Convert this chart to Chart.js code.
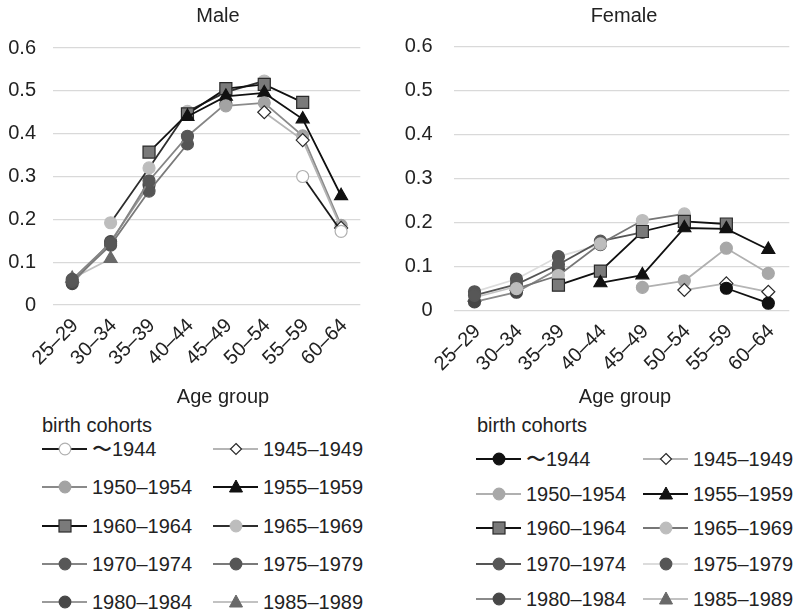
<!DOCTYPE html>
<html>
<head>
<meta charset="utf-8">
<script src="https://cdn.jsdelivr.net/npm/chart.js@4/dist/chart.umd.min.js"></script>
<style>
html, body { margin: 0; padding: 0; background: #fff; overflow: hidden; }
body { width: 794px; height: 613px; position: relative; font-family: "Liberation Sans", Arial, sans-serif; color: #222; }
.panel { position: absolute; top: 0; height: 406px; }
#male-panel { left: 0; width: 370px; }
#female-panel { left: 400px; width: 399px; }
.label { position: absolute; width: 200px; text-align: center; font-size: 20px; line-height: 22px; white-space: nowrap; }
.legend-title { position: absolute; font-size: 20px; line-height: 22px; white-space: nowrap; }
.legend-item { position: absolute; width: 220px; height: 24px; display: flex; align-items: center; font-size: 20px; white-space: nowrap; }
.legend-item svg { margin-right: 5px; flex: none; }
.legend-item span { flex: none; }
</style>
</head>
<body>
<div class="panel" id="male-panel"><canvas id="maleChart"></canvas></div>
<div class="panel" id="female-panel"><canvas id="femaleChart"></canvas></div>

<div class="label" style="left:118px;top:4px;">Male</div>
<div class="label" style="left:524px;top:4px;">Female</div>
<div class="label" style="left:123px;top:385px;">Age group</div>
<div class="label" style="left:525px;top:385px;">Age group</div>
<div id="legends"></div>

<script>
// ==========================================================================
// DATA
// ==========================================================================
const ageGroups = ['25–29', '30–34', '35–39', '40–44', '45–49', '50–54', '55–59', '60–64'];
const cohorts = ['〜1944', '1945–1949', '1950–1954', '1955–1959', '1960–1964',
                 '1965–1969', '1970–1974', '1975–1979', '1980–1984', '1985–1989'];
const yTicks = [0, 0.1, 0.2, 0.3, 0.4, 0.5, 0.6];

// one row per birth cohort, one value per age group (null = not observed)
const maleRates = [
    [null, null, null, null, null, null, 0.300, 0.172],
    [null, null, null, null, null, 0.450, 0.385, 0.180],
    [null, null, null, null, 0.465, 0.472, 0.395, 0.186],
    [null, null, null, 0.440, 0.487, 0.495, 0.434, 0.255],
    [null, null, 0.357, 0.446, 0.505, 0.515, 0.473, null],
    [null, 0.192, 0.320, 0.452, 0.497, 0.523, null, null],
    [0.060, 0.145, 0.290, 0.394, 0.470, null, null, null],
    [0.055, 0.140, 0.266, 0.376, null, null, null, null],
    [0.050, 0.148, 0.280, null, null, null, null, null],
    [0.062, 0.108, null, null, null, null, null, null]
];

const femaleRates = [
    [null, null, null, null, null, null, 0.051, 0.017],
    [null, null, null, null, null, 0.047, 0.062, 0.043],
    [null, null, null, null, 0.053, 0.068, 0.142, 0.085],
    [null, null, null, 0.063, 0.081, 0.188, 0.186, 0.139],
    [null, null, 0.058, 0.090, 0.180, 0.203, 0.197, null],
    [null, 0.050, 0.080, 0.152, 0.205, 0.220, null, null],
    [0.035, 0.060, 0.105, 0.158, 0.178, null, null, null],
    [0.043, 0.072, 0.123, 0.150, null, null, null, null],
    [0.020, 0.042, 0.095, null, null, null, null, null],
    [0.030, 0.055, null, null, null, null, null, null]
];

// ==========================================================================
// STYLES (line colour, marker fill, marker border, marker shape)
// ==========================================================================
const maleStyles = [
    { line: '#1a1a1a', fill: '#ffffff', stroke: '#b0b0b0', shape: 'circle' },
    { line: '#b5b5b5', fill: '#ffffff', stroke: '#2a2a2a', shape: 'rectRot' },
    { line: '#8a8a8a', fill: '#a3a3a3', stroke: '#a3a3a3', shape: 'circle' },
    { line: '#111111', fill: '#111111', stroke: '#111111', shape: 'triangle' },
    { line: '#111111', fill: '#7a7a7a', stroke: '#2a2a2a', shape: 'rect' },
    { line: '#2e2e2e', fill: '#bdbdbd', stroke: '#bdbdbd', shape: 'circle' },
    { line: '#858585', fill: '#575757', stroke: '#575757', shape: 'circle' },
    { line: '#7a7a7a', fill: '#555555', stroke: '#555555', shape: 'circle' },
    { line: '#9a9a9a', fill: '#474747', stroke: '#474747', shape: 'circle' },
    { line: '#c2c2c2', fill: '#696969', stroke: '#696969', shape: 'triangle' }
];

const femaleStyles = [
    { line: '#111111', fill: '#111111', stroke: '#111111', shape: 'circle' },
    { line: '#b5b5b5', fill: '#ffffff', stroke: '#2a2a2a', shape: 'rectRot' },
    { line: '#b0b0b0', fill: '#a8a8a8', stroke: '#a8a8a8', shape: 'circle' },
    { line: '#111111', fill: '#111111', stroke: '#111111', shape: 'triangle' },
    { line: '#111111', fill: '#7a7a7a', stroke: '#2a2a2a', shape: 'rect' },
    { line: '#767676', fill: '#bdbdbd', stroke: '#bdbdbd', shape: 'circle' },
    { line: '#555555', fill: '#575757', stroke: '#575757', shape: 'circle' },
    { line: '#dcdcdc', fill: '#555555', stroke: '#555555', shape: 'circle' },
    { line: '#8a8a8a', fill: '#474747', stroke: '#474747', shape: 'circle' },
    { line: '#c2c2c2', fill: '#696969', stroke: '#696969', shape: 'triangle' }
];

const markerRadius = { circle: 6, rectRot: 6.5, triangle: 7.5, rect: 8.5 };

Chart.defaults.font.family = '"Liberation Sans", Arial, sans-serif';
Chart.defaults.color = '#222';

// ==========================================================================
// CHART BUILDER
// ==========================================================================
function buildChart(canvasId, rates, styles, geo) {
    const datasets = rates.map((row, i) => ({
        label: cohorts[i],
        data: row,
        borderColor: styles[i].line,
        borderWidth: 1.8,
        pointStyle: styles[i].shape,
        pointRadius: markerRadius[styles[i].shape],
        pointBackgroundColor: styles[i].fill,
        pointBorderColor: styles[i].stroke,
        pointBorderWidth: 1.2,
        spanGaps: false,
        tension: 0
    }));

    return new Chart(document.getElementById(canvasId), {
        type: 'line',
        data: { labels: ageGroups, datasets: datasets },
        options: {
            responsive: true,
            maintainAspectRatio: false,
            animation: false,
            layout: { padding: { top: geo.top, right: geo.right, left: 0, bottom: 0 } },
            plugins: { legend: { display: false }, title: { display: false }, tooltip: { enabled: false } },
            scales: {
                x: {
                    offset: true,
                    grid: { display: false },
                    border: { display: false },
                    ticks: { minRotation: 45, maxRotation: 45, padding: geo.xPad, labelOffset: 3, font: { size: 20 }, autoSkip: false },
                    afterFit: s => { s.height = geo.xHeight; }
                },
                y: {
                    min: yTicks[0],
                    max: yTicks[yTicks.length - 1],
                    afterBuildTicks: s => { s.ticks = yTicks.map(v => ({ value: v })); },
                    grid: { color: '#d9d9d9', lineWidth: 1.3, drawTicks: false },
                    border: { display: false },
                    ticks: { padding: geo.yPad, font: { size: 20 } },
                    afterFit: s => { s.width = geo.yWidth; }
                }
            }
        }
    });
}

buildChart('maleChart', maleRates, maleStyles, { top: 48, right: 5, xHeight: 101, xPad: 1, yWidth: 53, yPad: 17 });
buildChart('femaleChart', femaleRates, femaleStyles, { top: 46.7, right: 0, xHeight: 95.3, xPad: 1, yWidth: 53.5, yPad: 21 });

// ==========================================================================
// LEGENDS
// ==========================================================================
function markerSvg(style) {
    const w = 45, h = 18, cx = 23, cy = 9;
    let mark = '';
    if (style.shape === 'circle') {
        mark = `<circle cx="${cx}" cy="${cy}" r="5.8" fill="${style.fill}" stroke="${style.stroke}" stroke-width="1.2"/>`;
    } else if (style.shape === 'rect') {
        mark = `<rect x="${cx - 6}" y="${cy - 6}" width="12" height="12" fill="${style.fill}" stroke="${style.stroke}" stroke-width="1.2"/>`;
    } else if (style.shape === 'triangle') {
        mark = `<polygon points="${cx},${cy - 7} ${cx + 6.5},${cy + 5} ${cx - 6.5},${cy + 5}" fill="${style.fill}" stroke="${style.stroke}"/>`;
    } else {
        mark = `<polygon points="${cx},${cy - 5.5} ${cx + 5.5},${cy} ${cx},${cy + 5.5} ${cx - 5.5},${cy}" fill="${style.fill}" stroke="${style.stroke}" stroke-width="1.2"/>`;
    }
    return `<svg width="${w}" height="${h}"><line x1="0" y1="${cy}" x2="${w}" y2="${cy}" stroke="${style.line}" stroke-width="1.8"/>${mark}</svg>`;
}

function buildLegend(styles, titlePos, cols, rows) {
    const host = document.getElementById('legends');
    const title = document.createElement('div');
    title.className = 'legend-title';
    title.style.left = titlePos[0] + 'px';
    title.style.top = (titlePos[1] - 11) + 'px';
    title.textContent = 'birth cohorts';
    host.appendChild(title);

    cohorts.forEach((name, i) => {
        const item = document.createElement('div');
        item.className = 'legend-item';
        item.style.left = cols[i % 2] + 'px';
        item.style.top = (rows[Math.floor(i / 2)] - 12) + 'px';
        item.innerHTML = markerSvg(styles[i]) + '<span>' + name + '</span>';
        host.appendChild(item);
    });
}

buildLegend(maleStyles, [42, 425], [42, 213], [449, 487, 526, 564, 602]);
buildLegend(femaleStyles, [477, 425], [476, 643], [459, 494, 528, 564, 599]);
</script>
</body>
</html>
